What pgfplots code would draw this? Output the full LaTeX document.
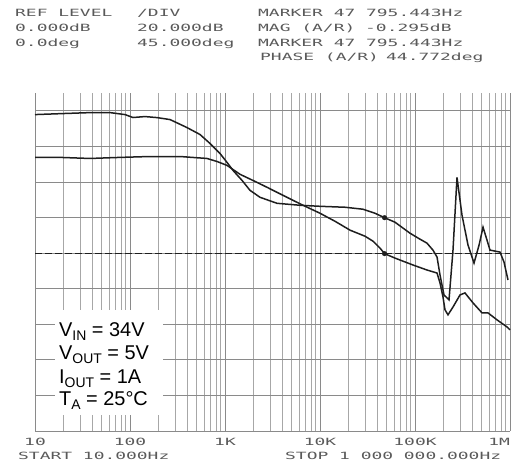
\documentclass[border=0pt]{standalone}
\usepackage{pgfplots}
\pgfplotsset{compat=1.18}
\usepackage{fontspec}
\setmainfont{Liberation Sans}
\newfontfamily\lcd[FakeStretch=1.8]{DejaVu Sans Mono}
\definecolor{trace}{HTML}{1E1E1E}
\definecolor{txt}{HTML}{5A5A5A}
\definecolor{gridc}{HTML}{8A8A8A}
\newcommand\sub[1]{\raisebox{-0.18em}{\fontsize{14}{14}\selectfont #1}}

% magnitude (dB) vs frequency (Hz)
\pgfplotstableread{
f mag
10 53.8
18.3 53.8
37.9 53.2
78.5 53.8
162 54.3
336 54.3
646 53.2
824 51.5
1050 49.3
1439 44.3
2070 40.3
2768 37.0
4285 31.9
6622 26.9
10000 22.4
14390 17.9
20700 12.9
29760 9.5
36140 6.7
42850 2.8
47795 -0.3
61550 -2.8
95260 -6.7
133700 -9.5
170600 -11.2
183400 -16.8
197000 -24.6
206900 -31.9
222500 -34.7
251200 -30.3
297800 -23.5
335900 -22.4
408000 -28.0
507300 -33.6
586300 -33.6
729300 -37.5
929300 -41.5
1000000 -43.1
}\magtable

% phase (deg) vs frequency (Hz)
\pgfplotstableread{
f ph
10 175.2
19.7 176.5
37.9 177.7
61.6 177.7
88.6 175.2
107.6 171.5
143.8 172.7
192.3 171.4
263.8 168.9
398 158.8
545.6 150.0
695 138.7
885 126.1
1050 114.7
1214 104.6
1510 92.0
1833 79.4
2335 70.6
3525 63.0
6158 60.5
10000 59.2
18330 58.0
28380 55.5
37930 50.4
47795 44.77
61550 39.1
88530 25.2
112900 17.6
133700 12.6
154500 3.8
170600 -5.0
183400 -27.7
201800 -52.9
228000 -59.2
251200 3.8
276700 95.8
312500 47.9
361500 10.1
418100 -12.6
472200 10.1
520100 32.8
572800 16.4
615600 3.8
784600 1.3
864500 -11.3
952800 -34.0
}\phtable

\begin{document}
\begin{tikzpicture}
\useasboundingbox (0,0) rectangle (515bp,464bp);
\begin{axis}[
  at={(35bp,33bp)}, anchor=south west,
  scale only axis, width=475bp, height=338bp,
  xmode=log, xmin=10, xmax=1e6, ymin=-5, ymax=4.5,
  xtick={10,100,1000,10000,100000,1000000},
  xticklabels={10,100,1K,10K,100K,\llap{1M}\hspace{4bp}},
  minor xtick={20,30,40,50,60,70,80,90,200,300,400,500,600,700,800,900,
    2000,3000,4000,5000,6000,7000,8000,9000,20000,30000,40000,50000,60000,70000,80000,90000,
    200000,300000,400000,500000,600000,700000,800000,900000},
  ytick={-5,-4,...,4}, yticklabels={},
  xmajorgrids, xminorgrids, ymajorgrids,
  major tick length=0, minor tick length=0,
  axis line style={draw=none},
  major grid style={gridc, line width=0.7bp},
  minor grid style={gridc!75, line width=0.5bp},
  xticklabel style={font={\lcd\fontsize{10}{12}\selectfont}, text=txt, anchor=base, yshift=-15bp},
  clip=false,
]
\addplot[trace, line width=1bp, dash pattern=on 7bp off 3bp] coordinates {(10,0) (1000000,0)};
\addplot[trace, line width=1.5bp, y filter/.expression={y/20}] table[x=f, y=mag] {\magtable};
\addplot[trace, line width=1.5bp, y filter/.expression={y/45}] table[x=f, y=ph] {\phtable};
\addplot[trace, only marks, mark=*, mark size=2.3bp, y filter/.expression={y/20}] coordinates {(47795.443,-0.295)};
\addplot[trace, only marks, mark=*, mark size=2.3bp, y filter/.expression={y/45}] coordinates {(47795.443,44.772)};
\end{axis}
\begin{scope}[shift={(0bp,464bp)}, x=1bp, y=-1bp]
  \tikzset{hdr/.style={anchor=base west, inner sep=0, text=txt, font={\lcd\fontsize{10}{12}\selectfont}}}
  \node[hdr] at (15,17) {REF LEVEL};
  \node[hdr] at (137,17) {/DIV};
  \node[hdr] at (258,17) {MARKER 47 795.443Hz};
  \node[hdr] at (15,32) {0.000dB};
  \node[hdr] at (137,32) {20.000dB};
  \node[hdr] at (258,32) {MAG (A/R)};
  \node[hdr] at (365,32) {-0.295dB};
  \node[hdr] at (15,47) {0.0deg};
  \node[hdr] at (137,47) {45.000deg};
  \node[hdr] at (258,47) {MARKER 47 795.443Hz};
  \node[hdr] at (260,61) {PHASE (A/R)};
  \node[hdr] at (386,61) {44.772deg};
  \node[hdr] at (18,460) {START 10.000Hz};
  \node[hdr] at (285,460) {STOP 1 000 000.000Hz};
  \fill[white] (55,310) rectangle (163,415);
  \tikzset{leg/.style={anchor=base west, inner sep=0, text=black, font={\fontsize{20}{24}\selectfont}}}
  \node[leg] at (59,337) {V\sub{IN} = 34V};
  \node[leg] at (59,360) {V\sub{OUT} = 5V};
  \node[leg] at (59,384) {I\sub{OUT} = 1A};
  \node[leg] at (59,406) {T\sub{A} = 25°C};
\end{scope}
\end{tikzpicture}
\end{document}
